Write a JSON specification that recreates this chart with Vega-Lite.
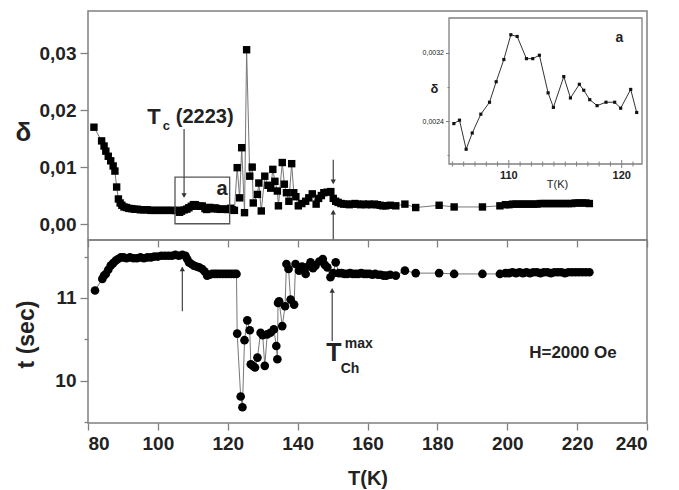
{
  "$schema": "https://vega.github.io/schema/vega-lite/v6.json",
  "padding": {"left": 14, "top": 10, "right": 5, "bottom": 5},
  "spacing": 0,
  "bounds": "flush",
  "resolve": {"scale": {"x": "independent", "y": "independent"}},
  "config": {
    "font": "Liberation Sans",
    "view": {"stroke": "#808080", "strokeWidth": 1.5},
    "axis": {"labelFont": "Liberation Sans", "labelFontWeight": "bold", "labelColor": "#222", "titleColor": "#222", "titleFont": "Liberation Sans", "titleFontWeight": "bold", "tickColor": "#808080", "tickWidth": 1.3, "domain": false, "grid": false}
  },
  "datasets": {
    "delta": [
      {"T":81.7,"d":0.0170},{"T":83.9,"d":0.0146},{"T":84.6,"d":0.0137},{"T":85.1,"d":0.0128},{"T":85.8,"d":0.0119},{"T":86.5,"d":0.0111},{"T":87.2,"d":0.0102},{"T":87.7,"d":0.0093},{"T":88.2,"d":0.0065},{"T":88.7,"d":0.0044},{"T":89.2,"d":0.0037},{"T":89.7,"d":0.0033},{"T":90.3,"d":0.0030},{"T":91.0,"d":0.0029},{"T":91.7,"d":0.00275},{"T":92.5,"d":0.0027},{"T":93.3,"d":0.0026},{"T":94.1,"d":0.0026},{"T":95.0,"d":0.0025},{"T":96.0,"d":0.0025},{"T":97.0,"d":0.0025},{"T":98.0,"d":0.0024},{"T":99.0,"d":0.0024},{"T":100.0,"d":0.0024},{"T":101.0,"d":0.0024},{"T":102.0,"d":0.0024},{"T":103.0,"d":0.0024},{"T":104.0,"d":0.0024},
      {"T":105.13,"d":0.00237},{"T":105.63,"d":0.00241},{"T":106.22,"d":0.00207},{"T":106.76,"d":0.00226},{"T":107.52,"d":0.00248},{"T":108.29,"d":0.00262},{"T":108.88,"d":0.00286},{"T":109.56,"d":0.00312},{"T":110.18,"d":0.00341},{"T":110.74,"d":0.00339},{"T":111.56,"d":0.00313},{"T":112.12,"d":0.00313},{"T":112.71,"d":0.00317},{"T":113.48,"d":0.00273},{"T":113.95,"d":0.00256},{"T":114.87,"d":0.00292},{"T":115.46,"d":0.00267},{"T":116.25,"d":0.00283},{"T":116.64,"d":0.00276},{"T":117.17,"d":0.00265},{"T":117.82,"d":0.00258},{"T":118.61,"d":0.00262},{"T":119.38,"d":0.00262},{"T":119.91,"d":0.00255},{"T":120.8,"d":0.00277},{"T":121.33,"d":0.0025},
      {"T":121.9,"d":0.0024},{"T":122.7,"d":0.0099},{"T":123.4,"d":0.0046},{"T":124.0,"d":0.0134},{"T":124.8,"d":0.0020},{"T":125.4,"d":0.0306},{"T":126.3,"d":0.0084},{"T":127.0,"d":0.0100},{"T":127.3,"d":0.0037},{"T":128.5,"d":0.0052},{"T":128.9,"d":0.0072},{"T":129.6,"d":0.0023},{"T":130.6,"d":0.0084},{"T":131.5,"d":0.0068},{"T":132.3,"d":0.0063},{"T":132.9,"d":0.0096},{"T":133.5,"d":0.0075},{"T":134.2,"d":0.0058},{"T":134.5,"d":0.0032},{"T":135.6,"d":0.0108},{"T":136.2,"d":0.0070},{"T":136.8,"d":0.0055},{"T":137.5,"d":0.0040},{"T":138.3,"d":0.0106},{"T":138.9,"d":0.0055},{"T":139.5,"d":0.0048},{"T":140.2,"d":0.0032},{"T":141.2,"d":0.0036},{"T":142.3,"d":0.0040},{"T":143.2,"d":0.0046},{"T":144.2,"d":0.0053},{"T":145.3,"d":0.0035},{"T":146.0,"d":0.0045},{"T":146.8,"d":0.0050},{"T":147.5,"d":0.0055},{"T":148.5,"d":0.0056},{"T":149.5,"d":0.0057},{"T":150.2,"d":0.0045},{"T":150.9,"d":0.0040},{"T":151.6,"d":0.0038},
      {"T":152.4,"d":0.0036},{"T":153.2,"d":0.0035},{"T":154.0,"d":0.0035},{"T":154.8,"d":0.0034},{"T":155.6,"d":0.0035},{"T":156.4,"d":0.0036},{"T":157.2,"d":0.0035},{"T":158.0,"d":0.0034},{"T":158.8,"d":0.0035},{"T":159.6,"d":0.0034},{"T":160.4,"d":0.0035},{"T":161.2,"d":0.0034},{"T":162.0,"d":0.0035},{"T":162.8,"d":0.0034},{"T":163.6,"d":0.0033},{"T":164.4,"d":0.0032},{"T":165.2,"d":0.0032},{"T":166.5,"d":0.0033},{"T":168.1,"d":0.0032},{"T":170.7,"d":0.0035},{"T":173.8,"d":0.0029},{"T":180.5,"d":0.0033},{"T":184.8,"d":0.0030},{"T":192.9,"d":0.0030},{"T":197.9,"d":0.0032},
      {"T":199.5,"d":0.0034},{"T":200.5,"d":0.0034},{"T":201.5,"d":0.0035},{"T":202.5,"d":0.0035},{"T":203.5,"d":0.0035},{"T":204.5,"d":0.0035},{"T":205.5,"d":0.0035},{"T":206.5,"d":0.0035},{"T":207.5,"d":0.0035},{"T":208.5,"d":0.0035},{"T":209.5,"d":0.0036},{"T":210.5,"d":0.0036},{"T":211.5,"d":0.0036},{"T":212.5,"d":0.0036},{"T":213.5,"d":0.0036},{"T":214.5,"d":0.0036},{"T":215.5,"d":0.0036},{"T":216.5,"d":0.0036},{"T":217.5,"d":0.0036},{"T":218.5,"d":0.0036},{"T":219.5,"d":0.0037},{"T":220.5,"d":0.0037},{"T":221.5,"d":0.0037},{"T":222.5,"d":0.0037},{"T":223.5,"d":0.0036}
    ],
    "inset": [
      {"T":105.13,"d":0.00237},{"T":105.63,"d":0.00241},{"T":106.22,"d":0.00207},{"T":106.76,"d":0.00226},{"T":107.52,"d":0.00248},{"T":108.29,"d":0.00262},{"T":108.88,"d":0.00286},{"T":109.56,"d":0.00312},{"T":110.18,"d":0.00341},{"T":110.74,"d":0.00339},{"T":111.56,"d":0.00313},{"T":112.12,"d":0.00313},{"T":112.71,"d":0.00317},{"T":113.48,"d":0.00273},{"T":113.95,"d":0.00256},{"T":114.87,"d":0.00292},{"T":115.46,"d":0.00267},{"T":116.25,"d":0.00283},{"T":116.64,"d":0.00276},{"T":117.17,"d":0.00265},{"T":117.82,"d":0.00258},{"T":118.61,"d":0.00262},{"T":119.38,"d":0.00262},{"T":119.91,"d":0.00255},{"T":120.8,"d":0.00277},{"T":121.33,"d":0.0025}
    ],
    "insetMinorTicks": [
      {"T":105,"d":0.001897},{"T":106,"d":0.001897},{"T":107,"d":0.001897},{"T":108,"d":0.001897},{"T":109,"d":0.001897},{"T":111,"d":0.001897},{"T":112,"d":0.001897},{"T":113,"d":0.001897},{"T":114,"d":0.001897},{"T":115,"d":0.001897},{"T":116,"d":0.001897},{"T":117,"d":0.001897},{"T":118,"d":0.001897},{"T":119,"d":0.001897},{"T":121,"d":0.001897}
    ],
    "insetMajorTicks": [
      {"T":110,"d":0.001897,"label":"110"},{"T":120,"d":0.001897,"label":"120"}
    ],
    "tt": [
      {"T":82.0,"t":11.09},{"T":84.1,"t":11.23},{"T":84.6,"t":11.27},{"T":85.1,"t":11.29},{"T":85.8,"t":11.34},{"T":86.5,"t":11.39},{"T":87.2,"t":11.42},{"T":87.9,"t":11.45},{"T":88.6,"t":11.47},{"T":89.4,"t":11.49},{"T":90.2,"t":11.49},{"T":91.0,"t":11.48},{"T":92.0,"t":11.49},{"T":93.0,"t":11.48},{"T":94.0,"t":11.48},{"T":95.0,"t":11.49},{"T":96.0,"t":11.48},{"T":97.0,"t":11.49},{"T":98.0,"t":11.49},{"T":99.0,"t":11.50},{"T":100.0,"t":11.50},{"T":101.0,"t":11.51},{"T":102.0,"t":11.51},{"T":103.0,"t":11.51},{"T":104.0,"t":11.51},{"T":105.0,"t":11.52},{"T":106.0,"t":11.51},{"T":107.0,"t":11.52},{"T":107.9,"t":11.51},{"T":108.4,"t":11.47},{"T":108.9,"t":11.43},{"T":109.6,"t":11.41},{"T":110.3,"t":11.39},{"T":111.0,"t":11.38},{"T":111.8,"t":11.37},{"T":112.7,"t":11.35},{"T":113.4,"t":11.32},{"T":114.1,"t":11.27},{"T":114.8,"t":11.28},{"T":115.5,"t":11.29},{"T":116.3,"t":11.29},{"T":117.0,"t":11.29},{"T":117.8,"t":11.29},{"T":118.6,"t":11.29},{"T":119.4,"t":11.29},{"T":120.2,"t":11.29},{"T":121.0,"t":11.29},{"T":121.8,"t":11.29},{"T":122.5,"t":11.29},
      {"T":122.7,"t":10.57},{"T":123.7,"t":9.81},{"T":124.2,"t":9.68},{"T":124.8,"t":10.49},{"T":125.6,"t":10.73},{"T":126.3,"t":10.61},{"T":126.6,"t":10.20},{"T":127.2,"t":10.18},{"T":127.8,"t":10.16},{"T":128.5,"t":10.28},{"T":129.4,"t":10.58},{"T":130.0,"t":10.55},{"T":130.6,"t":10.18},{"T":131.3,"t":10.56},{"T":132.2,"t":10.58},{"T":133.2,"t":10.62},{"T":133.9,"t":10.42},{"T":134.2,"t":10.26},{"T":134.4,"t":10.94},{"T":134.7,"t":10.96},{"T":135.6,"t":10.66},{"T":136.4,"t":10.90},{"T":136.8,"t":11.41},{"T":137.4,"t":11.35},{"T":138.0,"t":10.98},{"T":139.0,"t":10.92},{"T":139.4,"t":11.41},{"T":140.4,"t":11.33},{"T":141.3,"t":11.38},{"T":142.3,"t":11.29},{"T":143.0,"t":11.38},{"T":143.7,"t":11.43},{"T":144.4,"t":11.36},{"T":145.1,"t":11.39},{"T":146.2,"t":11.44},{"T":147.2,"t":11.47},{"T":147.8,"t":11.40},{"T":148.5,"t":11.37},{"T":149.4,"t":11.25},{"T":150.2,"t":11.30},{"T":150.9,"t":11.43},{"T":151.8,"t":11.30},
      {"T":152.6,"t":11.30},{"T":153.4,"t":11.29},{"T":154.2,"t":11.29},{"T":155.0,"t":11.30},{"T":155.8,"t":11.29},{"T":156.6,"t":11.29},{"T":157.4,"t":11.29},{"T":158.2,"t":11.30},{"T":159.0,"t":11.29},{"T":159.8,"t":11.29},{"T":160.6,"t":11.29},{"T":161.4,"t":11.28},{"T":162.2,"t":11.29},{"T":163.0,"t":11.28},{"T":163.8,"t":11.28},{"T":164.6,"t":11.27},{"T":165.4,"t":11.27},{"T":166.5,"t":11.28},{"T":168.1,"t":11.27},{"T":170.7,"t":11.33},{"T":173.8,"t":11.30},{"T":180.5,"t":11.30},{"T":184.8,"t":11.29},{"T":192.9,"t":11.29},{"T":197.9,"t":11.29},
      {"T":199.5,"t":11.30},{"T":200.5,"t":11.30},{"T":201.5,"t":11.31},{"T":202.5,"t":11.30},{"T":203.5,"t":11.31},{"T":204.5,"t":11.30},{"T":205.5,"t":11.31},{"T":206.5,"t":11.30},{"T":207.5,"t":11.31},{"T":208.5,"t":11.31},{"T":209.5,"t":11.30},{"T":210.5,"t":11.31},{"T":211.5,"t":11.31},{"T":212.5,"t":11.30},{"T":213.5,"t":11.31},{"T":214.5,"t":11.31},{"T":215.5,"t":11.31},{"T":216.5,"t":11.30},{"T":217.5,"t":11.31},{"T":218.5,"t":11.31},{"T":219.5,"t":11.31},{"T":220.5,"t":11.31},{"T":221.5,"t":11.31},{"T":222.5,"t":11.31},{"T":223.5,"t":11.31}
    ]
  },
  "vconcat": [
    {
      "width": 559,
      "height": 229,
      "layer": [
        {
          "layer": [
            {
              "data": {"name": "delta"},
              "mark": {"type": "line", "color": "#777", "strokeWidth": 1},
              "encoding": {
                "x": {"field": "T", "type": "quantitative", "title": null, "scale": {"domain": [80, 240], "nice": false},
                  "axis": {"values": [80,90,100,110,120,130,140,150,160,170,180,190,200,210,220,230,240], "labelExpr": "''", "labelPadding": 0, "labelFontSize": 1, "tickSize": {"condition": {"test": "datum.value % 20 === 0", "value": 7}, "value": 4}}},
                "y": {"field": "d", "type": "quantitative", "title": "δ", "scale": {"domain": [-0.0028, 0.0374], "nice": false, "zero": false},
                  "axis": {"values": [0, 0.005, 0.01, 0.015, 0.02, 0.025, 0.03, 0.035],
                    "labelExpr": "round(datum.value*1000) % 10 === 0 ? replace(format(datum.value, '.2f'), '.', ',') : ''",
                    "tickSize": {"condition": {"test": "round(datum.value*1000) % 10 === 0", "value": 8}, "value": 4},
                    "labelFontSize": 19, "labelPadding": 4,
                    "titleAngle": 0, "titleX": -65, "titleY": 121, "titleAlign": "center", "titleBaseline": "middle", "titleFontSize": 26}}
              }
            },
            {
              "data": {"name": "delta"},
              "mark": {"type": "point", "shape": "square", "filled": true, "color": "#000", "size": 55, "opacity": 1},
              "encoding": {"x": {"field": "T", "type": "quantitative", "title": null}, "y": {"field": "d", "type": "quantitative", "title": "δ"}}
            },
            {
              "data": {"values": [{"x1": 104.9, "x2": 120.55, "y1": 0.00005, "y2": 0.00825}]},
              "mark": {"type": "rect", "fill": null, "stroke": "#555", "strokeWidth": 1.3},
              "encoding": {"x": {"field": "x1", "type": "quantitative", "title": null}, "x2": {"field": "x2"}, "y": {"field": "y1", "type": "quantitative", "title": "δ"}, "y2": {"field": "y2"}}
            },
            {
              "data": {"values": [{"T": 107.5, "y1": 0.0167, "y2": 0.0048}, {"T": 150.2, "y1": 0.0113, "y2": 0.0072}, {"T": 150.2, "y1": -0.0028, "y2": 0.0023}]},
              "mark": {"type": "rule", "color": "#444", "strokeWidth": 1.2},
              "encoding": {"x": {"field": "T", "type": "quantitative", "title": null}, "y": {"field": "y1", "type": "quantitative", "title": "δ"}, "y2": {"field": "y2"}}
            },
            {
              "data": {"values": [{"T": 107.5, "d": 0.0050}, {"T": 150.2, "d": 0.0074}]},
              "mark": {"type": "point", "shape": "triangle-down", "filled": true, "color": "#333", "size": 28, "opacity": 1},
              "encoding": {"x": {"field": "T", "type": "quantitative", "title": null}, "y": {"field": "d", "type": "quantitative", "title": "δ"}}
            },
            {
              "data": {"values": [{"T": 150.2, "d": 0.0021}]},
              "mark": {"type": "point", "shape": "triangle-up", "filled": true, "color": "#333", "size": 28, "opacity": 1},
              "encoding": {"x": {"field": "T", "type": "quantitative", "title": null}, "y": {"field": "d", "type": "quantitative", "title": "δ"}}
            },
            {
              "data": {"values": [{"T": 98.9, "d": 0.0188, "label": "T"}]},
              "mark": {"type": "text", "font": "Liberation Sans", "fontWeight": "bold", "fontSize": 22, "color": "#222", "baseline": "middle", "align": "center"},
              "encoding": {"x": {"field": "T", "type": "quantitative", "title": null}, "y": {"field": "d", "type": "quantitative", "title": "δ"}, "text": {"field": "label"}}
            },
            {
              "data": {"values": [{"T": 102.4, "d": 0.0173, "label": "c"}]},
              "mark": {"type": "text", "font": "Liberation Sans", "fontWeight": "bold", "fontSize": 13, "color": "#222", "baseline": "middle", "align": "center"},
              "encoding": {"x": {"field": "T", "type": "quantitative", "title": null}, "y": {"field": "d", "type": "quantitative", "title": "δ"}, "text": {"field": "label"}}
            },
            {
              "data": {"values": [{"T": 113.4, "d": 0.0188, "label": "(2223)"}, {"T": 118.4, "d": 0.0062, "label": "a"}]},
              "mark": {"type": "text", "font": "Liberation Sans", "fontWeight": "bold", "fontSize": 20, "color": "#222", "baseline": "middle", "align": "center"},
              "encoding": {"x": {"field": "T", "type": "quantitative", "title": null}, "y": {"field": "d", "type": "quantitative", "title": "δ"}, "text": {"field": "label"}}
            }
          ]
        },
        {
          "layer": [
            {
              "data": {"values": [{"x1": 104.7, "x2": 121.8, "y1": 0.001897, "y2": 0.003606}]},
              "mark": {"type": "rect", "fill": "white", "stroke": "#808080", "strokeWidth": 1.3},
              "encoding": {
                "x": {"field": "x1", "type": "quantitative", "title": "T(K)", "scale": {"domain": [104.7, 121.8], "range": [361, 554], "nice": false, "zero": false},
                  "axis": {"orient": "bottom", "offset": -76, "zindex": 2, "ticks": false, "labels": false,
                    "titleFontSize": 11, "titleFontWeight": "normal", "titleX": 469, "titleY": 20, "titleBaseline": "middle", "titleAlign": "center"}},
                "x2": {"field": "x2"},
                "y": {"field": "y1", "type": "quantitative", "title": "δ", "scale": {"domain": [0.001897, 0.003606], "range": [153, 7], "nice": false, "zero": false},
                  "axis": {"orient": "left", "offset": -361, "zindex": 2, "values": [0.002, 0.0024, 0.0028, 0.0032],
                    "labelExpr": "round(datum.value*10000) % 8 === 0 ? replace(format(datum.value, '.4f'), '.', ',') : ''", "labelFontSize": 7, "labelPadding": 2, "labelFontWeight": "normal",
                    "tickSize": {"condition": {"test": "round(datum.value*10000) % 8 === 0", "value": 3.5}, "value": 2}, "tickWidth": 1,
                    "titleAngle": 0, "titleX": -15, "titleY": 77, "titleFontSize": 13, "titleAlign": "center", "titleBaseline": "middle"}},
                "y2": {"field": "y2"}
              }
            },
            {
              "data": {"name": "insetMinorTicks"},
              "mark": {"type": "tick", "orient": "vertical", "size": 5, "thickness": 1, "color": "#808080", "opacity": 1},
              "encoding": {"x": {"field": "T", "type": "quantitative", "title": "T(K)"}, "y": {"field": "d", "type": "quantitative", "title": "δ"}}
            },
            {
              "data": {"name": "insetMajorTicks"},
              "mark": {"type": "tick", "orient": "vertical", "size": 8, "thickness": 1, "color": "#808080", "opacity": 1},
              "encoding": {"x": {"field": "T", "type": "quantitative", "title": "T(K)"}, "y": {"field": "d", "type": "quantitative", "title": "δ"}}
            },
            {
              "data": {"name": "insetMajorTicks"},
              "mark": {"type": "text", "font": "Liberation Sans", "fontWeight": "bold", "fontSize": 11, "color": "#222", "baseline": "top", "align": "center", "dy": 6},
              "encoding": {"x": {"field": "T", "type": "quantitative", "title": "T(K)"}, "y": {"field": "d", "type": "quantitative", "title": "δ"}, "text": {"field": "label"}}
            },
            {
              "data": {"name": "inset"},
              "mark": {"type": "line", "color": "#333", "strokeWidth": 1, "point": {"filled": true, "color": "#111", "size": 10, "shape": "square"}},
              "encoding": {"x": {"field": "T", "type": "quantitative", "title": "T(K)"}, "y": {"field": "d", "type": "quantitative", "title": "δ"}}
            },
            {
              "data": {"values": [{"T": 119.8, "d": 0.00337, "label": "a"}]},
              "mark": {"type": "text", "font": "Liberation Sans", "fontWeight": "bold", "fontSize": 14, "color": "#222", "baseline": "middle", "align": "center"},
              "encoding": {"x": {"field": "T", "type": "quantitative", "title": "T(K)"}, "y": {"field": "d", "type": "quantitative", "title": "δ"}, "text": {"field": "label"}}
            }
          ]
        }
      ],
      "resolve": {"scale": {"x": "independent", "y": "independent"}, "axis": {"x": "independent", "y": "independent"}}
    },
    {
      "width": 559,
      "height": 183,
      "layer": [
        {
          "data": {"name": "tt"},
          "mark": {"type": "line", "color": "#777", "strokeWidth": 1},
          "encoding": {
            "x": {"field": "T", "type": "quantitative", "title": "T(K)", "scale": {"domain": [80, 240], "nice": false},
              "axis": {"values": [80,90,100,110,120,130,140,150,160,170,180,190,200,210,220,230,240],
                "labelExpr": "datum.value % 20 === 0 ? datum.label : ''", "labelFontSize": 19, "labelPadding": 4,
                "tickSize": {"condition": {"test": "datum.value % 20 === 0", "value": 7}, "value": 4},
                "titleFontSize": 20, "titleY": 55, "titleBaseline": "middle"}},
            "y": {"field": "t", "type": "quantitative", "title": "t (sec)", "scale": {"domain": [9.49, 11.7], "nice": false, "zero": false},
              "axis": {"values": [9.5, 10, 10.5, 11, 11.5],
                "labelExpr": "datum.value % 1 === 0 ? format(datum.value, 'd') : ''", "labelFontSize": 19, "labelPadding": 4,
                "tickSize": {"condition": {"test": "datum.value % 1 === 0", "value": 8}, "value": 4},
                "titleAngle": 270, "titleX": -62, "titleY": 94, "titleAlign": "center", "titleBaseline": "middle", "titleFontSize": 23}}
          }
        },
        {
          "data": {"name": "tt"},
          "mark": {"type": "point", "shape": "circle", "filled": true, "color": "#000", "size": 75, "opacity": 1},
          "encoding": {"x": {"field": "T", "type": "quantitative", "title": "T(K)"}, "y": {"field": "t", "type": "quantitative", "title": "t (sec)"}}
        },
        {
          "data": {"values": [{"T": 107.0, "y1": 10.84, "y2": 11.37}, {"T": 149.9, "y1": 10.48, "y2": 11.11}]},
          "mark": {"type": "rule", "color": "#444", "strokeWidth": 1.2},
          "encoding": {"x": {"field": "T", "type": "quantitative", "title": "T(K)"}, "y": {"field": "y1", "type": "quantitative", "title": "t (sec)"}, "y2": {"field": "y2"}}
        },
        {
          "data": {"values": [{"T": 107.0, "t": 11.35}, {"T": 149.9, "t": 11.09}]},
          "mark": {"type": "point", "shape": "triangle-up", "filled": true, "color": "#333", "size": 28, "opacity": 1},
          "encoding": {"x": {"field": "T", "type": "quantitative", "title": "T(K)"}, "y": {"field": "t", "type": "quantitative", "title": "t (sec)"}}
        },
        {
          "data": {"values": [{"T": 150.4, "t": 10.33, "label": "T"}]},
          "mark": {"type": "text", "font": "Liberation Sans", "fontWeight": "bold", "fontSize": 25, "color": "#222", "baseline": "middle", "align": "center"},
          "encoding": {"x": {"field": "T", "type": "quantitative", "title": "T(K)"}, "y": {"field": "t", "type": "quantitative", "title": "t (sec)"}, "text": {"field": "label"}}
        },
        {
          "data": {"values": [{"T": 157.5, "t": 10.45, "label": "max"}, {"T": 155.0, "t": 10.14, "label": "Ch"}]},
          "mark": {"type": "text", "font": "Liberation Sans", "fontWeight": "bold", "fontSize": 14, "color": "#222", "baseline": "middle", "align": "center"},
          "encoding": {"x": {"field": "T", "type": "quantitative", "title": "T(K)"}, "y": {"field": "t", "type": "quantitative", "title": "t (sec)"}, "text": {"field": "label"}}
        },
        {
          "data": {"values": [{"T": 218.8, "t": 10.34, "label": "H=2000 Oe"}]},
          "mark": {"type": "text", "font": "Liberation Sans", "fontWeight": "bold", "fontSize": 17, "color": "#222", "baseline": "middle", "align": "center"},
          "encoding": {"x": {"field": "T", "type": "quantitative", "title": "T(K)"}, "y": {"field": "t", "type": "quantitative", "title": "t (sec)"}, "text": {"field": "label"}}
        }
      ]
    }
  ]
}
